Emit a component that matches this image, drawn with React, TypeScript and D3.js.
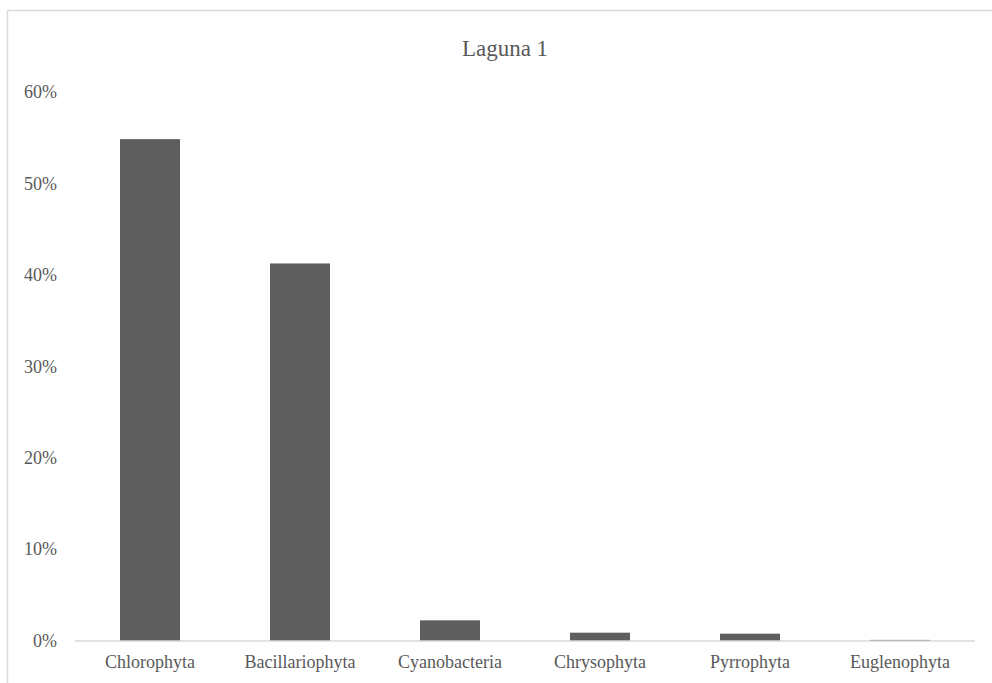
import React from "react";
import * as d3 from "d3";

// Phytoplankton composition by division (share of total)
const categories = ["Chlorophyta", "Bacillariophyta", "Cyanobacteria", "Chrysophyta", "Pyrrophyta", "Euglenophyta"];
const shares = [0.549, 0.413, 0.0226, 0.0091, 0.008, 0.0012];
const yTicks = [0, 0.1, 0.2, 0.3, 0.4, 0.5, 0.6];
const chartTitle = "Laguna 1";

const W = 992;
const H = 683;
const plot = { left: 75, right: 975, top: 92.5, bottom: 641 };
const textColor = "#595959";
const font = "'Liberation Serif', 'Times New Roman', serif";

export default function App() {
  const x = d3
    .scaleBand<string>()
    .domain(categories)
    .range([plot.left, plot.right])
    .paddingInner(0.6)
    .paddingOuter(0.3);
  const y = d3.scaleLinear().domain([0, 0.6]).range([plot.bottom, plot.top]);
  const pct = d3.format(".0%");

  return (
    <svg
      width={W}
      height={H}
      style={{ position: "absolute", left: 0, top: 0, background: "#fff" }}
      fontFamily={font}
    >
      <rect x={7.5} y={10.5} width={1100} height={800} fill="#fff" stroke="#d9d9d9" strokeWidth={1.5} />
      <text x={505} y={56} textAnchor="middle" fontSize={23} fill={textColor}>
        {chartTitle}
      </text>
      {yTicks.map((t) => (
        <text key={t} x={57} y={y(t)} dy="0.32em" textAnchor="end" fontSize={18} fill={textColor}>
          {pct(t)}
        </text>
      ))}
      {categories.map((c, i) => (
        <rect
          key={c}
          x={x(c)}
          y={y(shares[i])}
          width={x.bandwidth()}
          height={plot.bottom - y(shares[i])}
          fill="#5e5e5e"
        />
      ))}
      <line x1={plot.left} x2={plot.right} y1={plot.bottom} y2={plot.bottom} stroke="#d9d9d9" strokeWidth={1.5} />
      {categories.map((c) => (
        <text
          key={c}
          x={(x(c) ?? 0) + x.bandwidth() / 2}
          y={668}
          textAnchor="middle"
          fontSize={18}
          fill={textColor}
        >
          {c}
        </text>
      ))}
    </svg>
  );
}
